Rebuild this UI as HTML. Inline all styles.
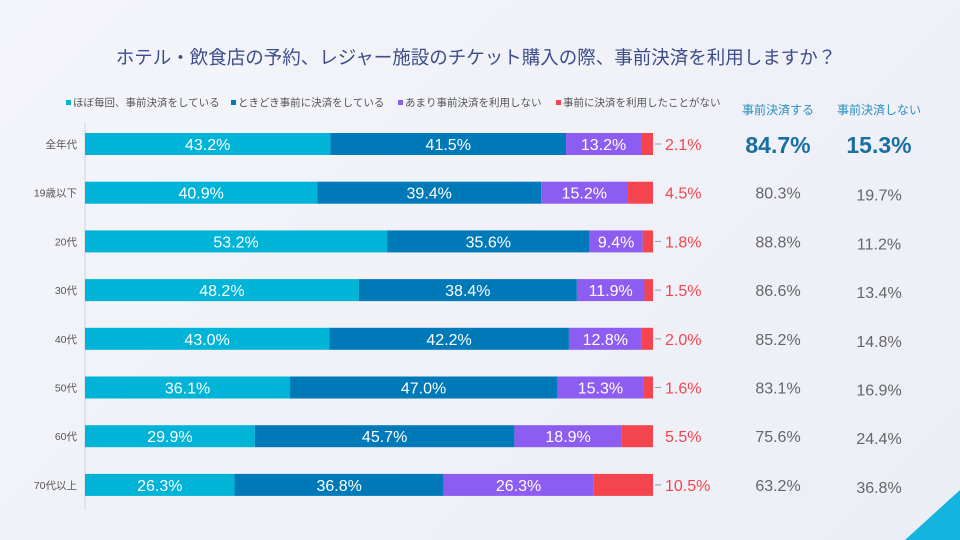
<!DOCTYPE html>
<html><head><meta charset="utf-8">
<style>
body{margin:0;width:960px;height:540px;overflow:hidden;background:linear-gradient(135deg,#f4f5fa,#eceef6);font-family:"Liberation Sans","Noto Sans CJK JP",sans-serif;}
svg{position:absolute;left:0;top:0}
</style></head><body>
<svg width="960" height="540" id="c">
<text x="476" y="64" text-anchor="middle" font-size="18.5" fill="#3d4d8a">ホテル・飲食店の予約、レジャー施設のチケット購入の際、事前決済を利用しますか？</text>
<g font-size="10.5" fill="#555">
<rect x="66" y="100" width="5" height="5" fill="#00b4d8"/><text x="73" y="106">ほぼ毎回、事前決済をしている</text>
<rect x="231" y="100" width="5" height="5" fill="#0079b8"/><text x="238" y="106">ときどき事前に決済をしている</text>
<rect x="398" y="100" width="5" height="5" fill="#8d5cf0"/><text x="405" y="106">あまり事前決済を利用しない</text>
<rect x="556" y="100" width="5" height="5" fill="#f4454e"/><text x="563" y="106">事前に決済を利用したことがない</text>
</g>
<text x="778" y="114" text-anchor="middle" font-size="12" fill="#2a8fc0">事前決済する</text>
<text x="879" y="114" text-anchor="middle" font-size="12" fill="#2a8fc0">事前決済しない</text>
<line x1="85" y1="122" x2="85" y2="510" stroke="#d0d3dc"/>
<polygon points="960,490 960,540 905,540" fill="#14b4e0"/>
<g id="bars"></g>
</svg>
<script>
const categories=["全年代","19歳以下","20代","30代","40代","50代","60代","70代以上"];
const always=[43.2,40.9,53.2,48.2,43.0,36.1,29.9,26.3];
const sometimes=[41.5,39.4,35.6,38.4,42.2,47.0,45.7,36.8];
const rarely=[13.2,15.2,9.4,11.9,12.8,15.3,18.9,26.3];
const never=[2.1,4.5,1.8,1.5,2.0,1.6,5.5,10.5];
const useTotal=[84.7,80.3,88.8,86.6,85.2,83.1,75.6,63.2];
const notTotal=[15.3,19.7,11.2,13.4,14.8,16.9,24.4,36.8];
const colors=["#00b4d8","#0079b8","#8d5cf0","#f4454e"];
const NS="http://www.w3.org/2000/svg";
const g=document.getElementById("bars");
const x0=85,W=568;
const xs=v=>v/100*W;
const yc=i=>144+i*48.7;
function mk(t,a){const e=document.createElementNS(NS,t);for(const k in a)e.setAttribute(k,a[k]);g.appendChild(e);return e;}
categories.forEach((c,i)=>{
  const y=yc(i);
  const l=mk("text",{x:77,y:y+4,"text-anchor":"end","font-size":10.5,fill:"#555"});l.textContent=c;
  
  
  let x=x0;
  const vals=[always[i],sometimes[i],rarely[i],never[i]];
  const tot=vals.reduce((a,b)=>a+b,0);
  vals.forEach((v,k)=>{
    const w=xs(v)*100/tot;
    const r=mk("rect",{x:x,y:y-11,width:w,height:22,fill:colors[k]});
    
    
    if(k<3){const t=mk("text",{x:x+w/2,y:y+6,"text-anchor":"middle","font-size":16,fill:"#fff"});t.textContent=v.toFixed(1)+"%";
      
      }
    x+=w;
  });
  if(never[i]<4||never[i]>10){const ln=mk("line",{x1:x0+W+2,y1:y,x2:x0+W+8,y2:y,stroke:"#999"});
    
    }
  const nt=mk("text",{x:665,y:y+6,"font-size":16,fill:"#f4454e"});nt.textContent=never[i].toFixed(1)+"%";
  
  
  const big=i===0;
  const u=mk("text",{x:778,y:y+(big?9:6),"text-anchor":"middle","font-size":big?23:16,fill:big?"#1a6fa0":"#666","font-weight":big?"bold":"normal"});u.textContent=useTotal[i].toFixed(1)+"%";
  
  
  const n=mk("text",{x:879,y:y+(big?9:8),"text-anchor":"middle","font-size":big?23:16,fill:big?"#1a6fa0":"#666","font-weight":big?"bold":"normal"});n.textContent=notTotal[i].toFixed(1)+"%";
  
  
});
</script>
</body></html>
